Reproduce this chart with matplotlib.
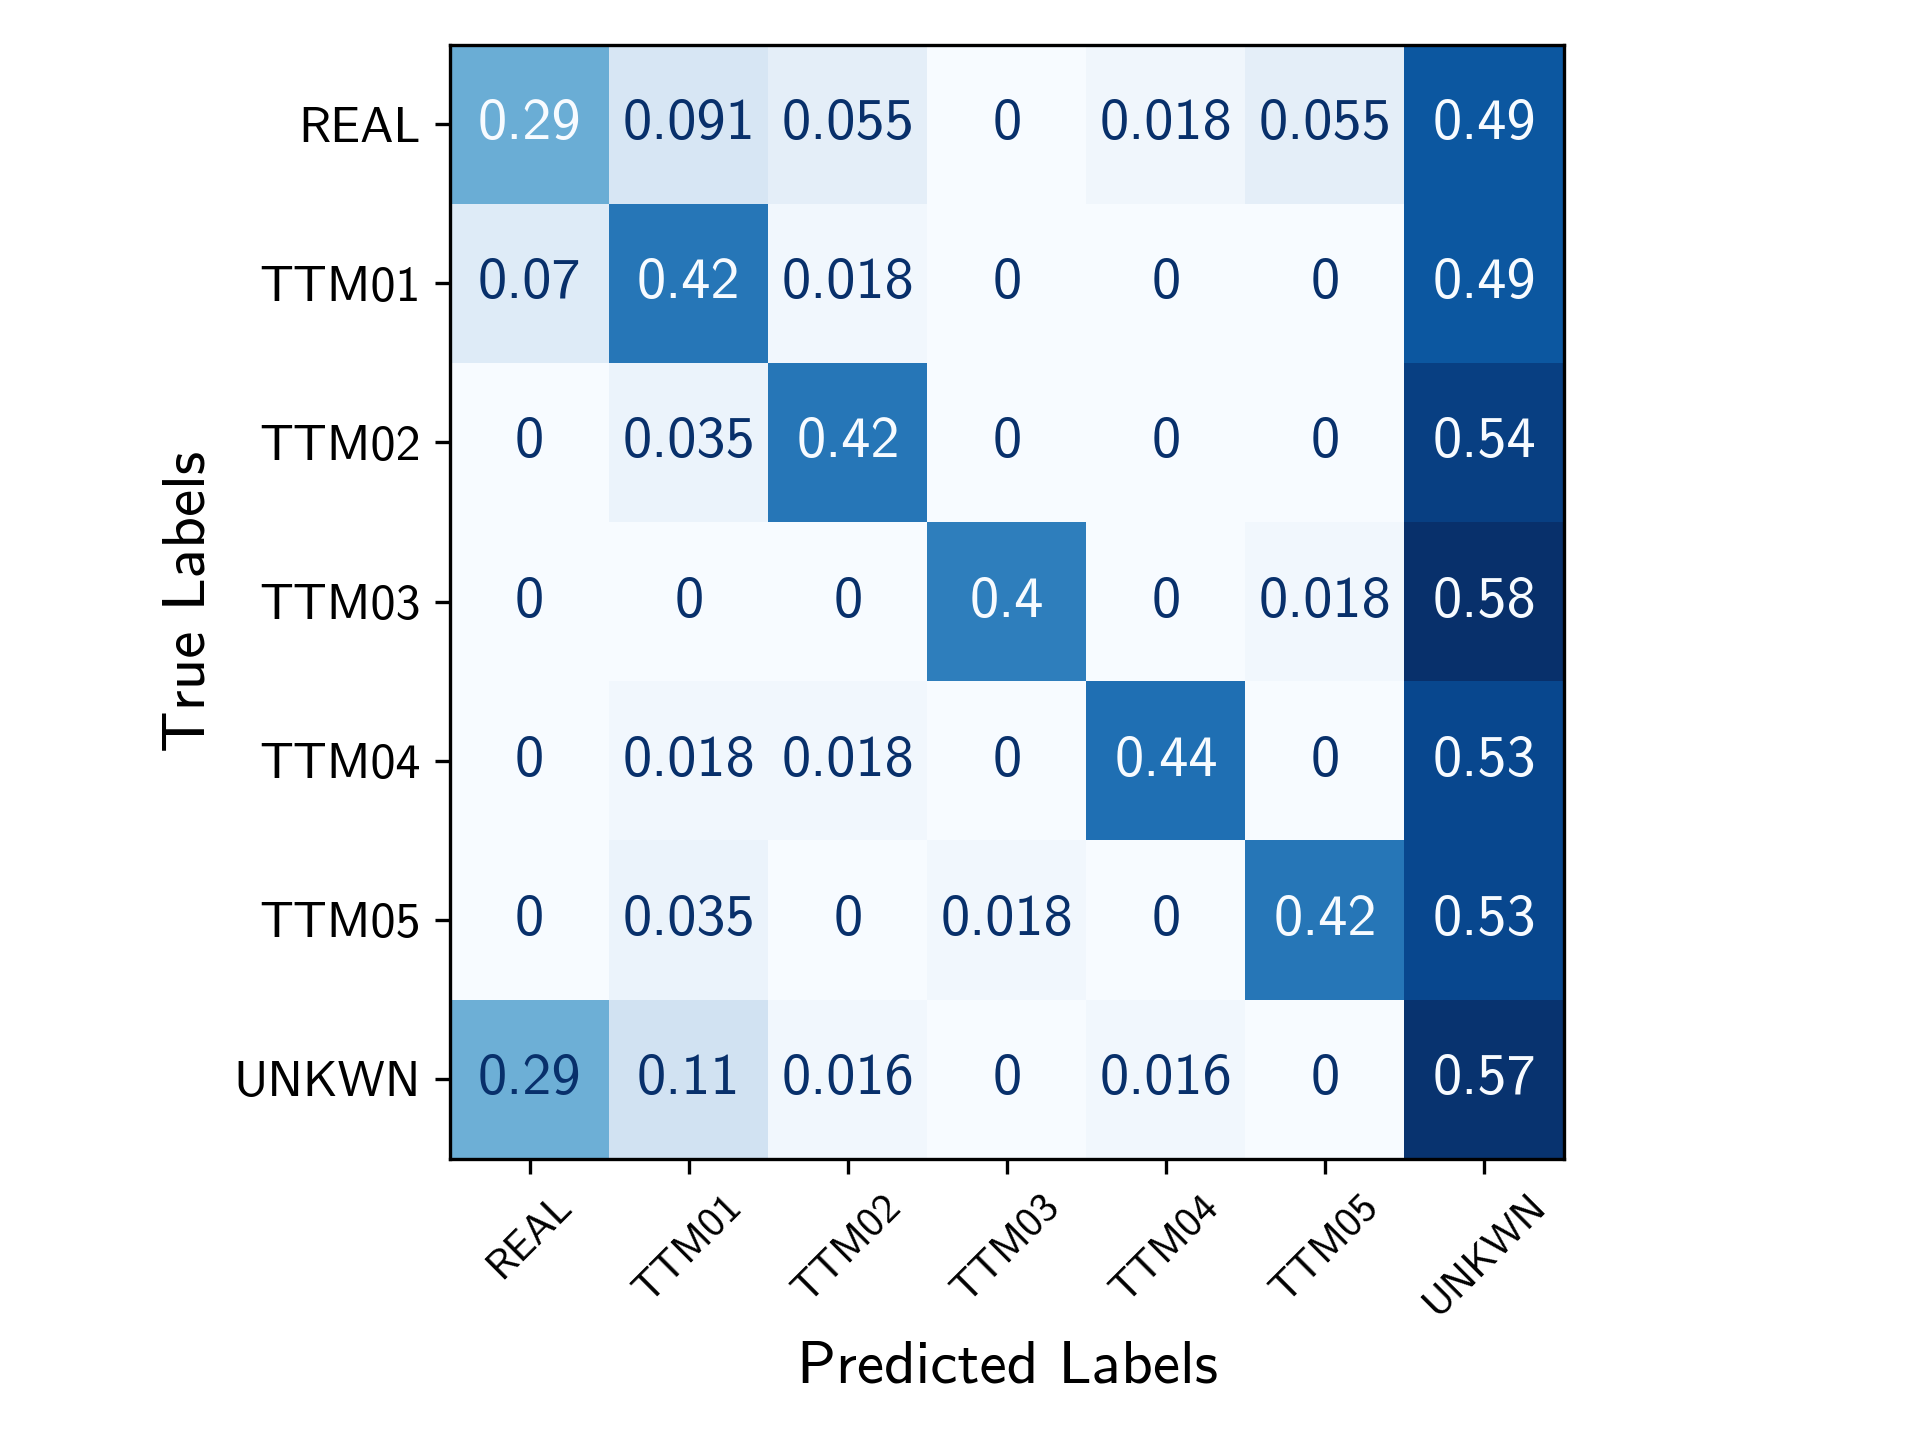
import numpy as np
import matplotlib
matplotlib.use("Agg")
import matplotlib.pyplot as plt

labels = ["REAL", "TTM01", "TTM02", "TTM03", "TTM04", "TTM05", "UNKWN"]

row_real  = [0.2909, 0.0909, 0.05455, 0.0, 0.0182, 0.05455, 0.4909]
row_ttm01 = [0.0702, 0.4211, 0.0175, 0.0, 0.0, 0.0, 0.4912]
row_ttm02 = [0.0, 0.0351, 0.4211, 0.0, 0.0, 0.0, 0.5439]
row_ttm03 = [0.0, 0.0, 0.0, 0.4035, 0.0, 0.0175, 0.5789]
row_ttm04 = [0.0, 0.0175, 0.0175, 0.0, 0.4386, 0.0, 0.5263]
row_ttm05 = [0.0, 0.0351, 0.0, 0.0175, 0.0, 0.4211, 0.5263]
row_unkwn = [0.2857, 0.1111, 0.0159, 0.0, 0.0159, 0.0, 0.5714]

cm = np.array([row_real, row_ttm01, row_ttm02, row_ttm03,
               row_ttm04, row_ttm05, row_unkwn])

plt.rcParams['font.family'] = ['cmss10', 'DejaVu Sans']
plt.rcParams['axes.unicode_minus'] = False
plt.rcParams['mathtext.fontset'] = 'cm'

fig = plt.figure(figsize=(6.4, 4.8), dpi=300)
ax = fig.add_axes([0.2344, 0.1951, 0.5802, 0.7743])

cmap = plt.get_cmap("Blues")
im = ax.imshow(cm, cmap=cmap, interpolation="nearest")

thresh = (cm.max() + cm.min()) / 2.0
cmap_min, cmap_max = cmap(0), cmap(1.0)
n = cm.shape[0]
for i in range(n):
    for j in range(n):
        color = cmap_max if cm[i, j] < thresh else cmap_min
        ax.text(j, i, format(cm[i, j], ".2g"), ha="center", va="center",
                color=color, fontsize=14)

ax.set_xticks(np.arange(n))
ax.set_yticks(np.arange(n))
ax.set_xticklabels(labels, rotation=45, fontsize=10)
ax.set_yticklabels(labels, fontsize=12)
ax.set_xlabel("Predicted Labels", fontsize=14.7)
ax.set_ylabel("True Labels", fontsize=14.7)
ax.set_ylim(n - 0.5, -0.5)

fig.savefig("out.png", dpi=300)
